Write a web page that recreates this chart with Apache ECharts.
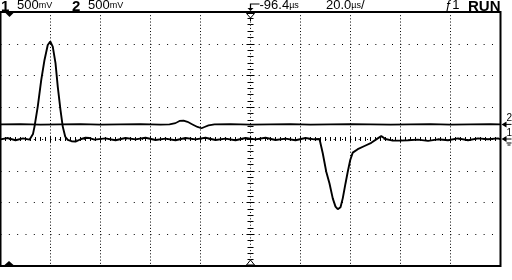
<!DOCTYPE html>
<html><head><meta charset="utf-8">
<script src="https://cdn.jsdelivr.net/npm/echarts@6/dist/echarts.min.js"></script>
<style>html,body{margin:0;padding:0;background:#fff}#c{width:512px;height:280px}</style>
</head><body><div id="c"></div>
<script>
// time in µs relative to screen centre (20 µs/div), amplitude in divisions (500 mV/div)
const ch1Time = [-100,-97,-94,-91,-88.4,-87.6,-87.0,-86.4,-85.1,-83.7,-82.4,-81.1,-80.1,-79.1,-78.0,-77.1,-76.0,-75.1,-74.1,-73.1,-71.6,-70.0,-67.7,-66.0,-64.4,-62.4,-58,-54,-50,-46,-42,-38,-34,-30,-26,-22,-18,-14,-10,-6,-2,2,6,10,14,18,22,25.5,27.6,28.9,30.3,31.6,32.9,34.0,34.9,36.0,36.9,38.0,38.9,39.9,40.9,42.9,45.6,48.3,50.9,52.3,54.0,56.9,59.6,63,67,71,75,79,83,87,91,95,99,100];
const ch1Div  = [-0.01,0.03,-0.04,0.02,-0.02,0.02,0.16,0.39,1.02,1.86,2.49,2.96,3.07,2.91,2.39,1.65,0.91,0.39,0.07,-0.03,-0.07,-0.08,0.0,0.04,0.03,-0.02,0.02,-0.04,0.03,-0.01,0.04,-0.03,0.01,-0.04,0.03,-0.01,0.04,-0.03,0.01,-0.04,0.03,-0.01,0.04,-0.03,0.01,-0.04,0.03,-0.01,0.0,-0.45,-1.03,-1.40,-1.87,-2.13,-2.21,-2.15,-1.87,-1.40,-1.03,-0.66,-0.43,-0.32,-0.22,-0.12,0.02,0.09,0.0,-0.05,-0.05,-0.04,-0.02,-0.06,-0.01,-0.04,0.02,-0.04,0.02,-0.01,0.02,-0.01];
const ch2Time = [-100,-92,-84,-76,-68,-60,-52,-44,-36,-32.4,-30,-28.4,-26.8,-25.2,-23.2,-21.2,-19.6,-18.4,-16.8,-14.4,-8,0,8,16,24,32,40,48,56,64,72,80,88,96,100];
const ch2Div  = [0.46,0.47,0.45,0.46,0.47,0.45,0.46,0.47,0.45,0.46,0.50,0.57,0.58,0.54,0.46,0.38,0.34,0.38,0.43,0.46,0.47,0.45,0.46,0.47,0.45,0.46,0.47,0.46,0.45,0.46,0.47,0.45,0.46,0.47,0.46];
const chOffsets = {ch1: 0.0, ch2: 0.46};
const triggerDelay = -96.4;
const headerLeft = [['1','500','mV'],['2','500','mV']];
const delayText = ['-96.4','µs'];
const timebaseText = ['20.0','µs','/'];
const trigText = 'ƒ1';
const runText = 'RUN';

const zip = (a, b) => a.map((t, i) => [t, b[i]]);
const chart = echarts.init(document.getElementById('c'), null, {renderer: 'canvas'});
const FONT = 'Liberation Sans';
const hidden = {axisLabel:{show:false}, axisLine:{show:false,onZero:false}, axisTick:{show:false}};
function tickAxis(base, inside, len, mlen, split, idx) {
  return Object.assign({}, base, {
    axisLabel:{show:false}, splitLine:{show:false},
    axisLine:{show:false, onZero:true, onZeroAxisIndex: idx},
    axisTick:{show:true, inside: inside, length: len, lineStyle:{color:'#000', width:1}},
    minorTick:{show:true, splitNumber: split, length: mlen, lineStyle:{color:'#000', width:1}}
  });
}
const xBase = {type:'value', min:-100, max:100, interval:20};
const yBase = {type:'value', min:-4, max:4, interval:1};
chart.setOption({
  animation:false,
  backgroundColor:'#fff',
  grid:{left:0.5, right:11.5, top:12, bottom:14, show:true, borderColor:'#000', borderWidth:2, backgroundColor:'#fff'},
  xAxis:[
    Object.assign({}, xBase, hidden, {splitLine:{show:true, lineStyle:{color:'#000', width:1, type:[1,2.175]}}}),
    tickAxis(xBase, false, 3, 2, 10, 0),
    tickAxis(xBase, true, 3, 2, 10, 0)
  ],
  yAxis:[
    Object.assign({}, yBase, hidden, {splitLine:{show:true, lineStyle:{color:'#000', width:1, type:[1,7.33]}}}),
    tickAxis(yBase, false, 4, 3, 5, 0),
    tickAxis(yBase, true, 4, 3, 5, 0)
  ],
  series:[
    {type:'line', name:'ch2', data: zip(ch2Time, ch2Div), showSymbol:false, symbol:'none', lineStyle:{color:'#000', width:1.7}, z:5},
    {type:'line', name:'ch1', data: zip(ch1Time, ch1Div), showSymbol:false, symbol:'none', lineStyle:{color:'#000', width:1.9}, z:6}
  ]
});

const cx = chart.convertToPixel({xAxisIndex:0}, 0);
const tx = chart.convertToPixel({xAxisIndex:0}, triggerDelay);
const yTop = chart.convertToPixel({yAxisIndex:0}, 4);
const yBot = chart.convertToPixel({yAxisIndex:0}, -4);
const xRight = chart.convertToPixel({xAxisIndex:0}, 100);
const y1 = chart.convertToPixel({yAxisIndex:0}, chOffsets.ch1);
const y2 = chart.convertToPixel({yAxisIndex:0}, chOffsets.ch2);

const rich = {
  n:{fontFamily:FONT, fontSize:13, fill:'#000'},
  b:{fontFamily:FONT, fontSize:15, fontWeight:'bold', fill:'#000'},
  u:{fontFamily:FONT, fontSize:9, fill:'#000'}
};
function txt(x, str) {
  return {type:'text', left:x, top:-1, style:{text:str, rich:rich, fill:'#000', fontFamily:FONT, fontSize:13}};
}
const g = [
  txt(1, '{b|' + headerLeft[0][0] + '}'),
  txt(17, '{n|' + headerLeft[0][1] + '}{u|' + headerLeft[0][2] + '}'),
  txt(72, '{b|' + headerLeft[1][0] + '}'),
  txt(88, '{n|' + headerLeft[1][1] + '}{u|' + headerLeft[1][2] + '}'),
  txt(cx + 9, '{n|' + delayText[0] + '}{u|' + delayText[1] + '}'),
  txt(326, '{n|' + timebaseText[0] + '}{u|' + timebaseText[1] + '}{n|' + timebaseText[2] + '}'),
  txt(445, '{n|' + trigText + '}'),
  txt(468, '{b|' + runText + '}'),
  // trigger reference arrow
  {type:'polyline', shape:{points:[[cx+9,4],[cx,4],[cx,9]]}, style:{stroke:'#000', lineWidth:1.2, fill:null}},
  {type:'polygon', shape:{points:[[cx-3,8],[cx+3,8],[cx,11]]}, style:{fill:'#000'}},
  // centre markers
  {type:'polygon', shape:{points:[[cx-4,yTop+1.5],[cx+4,yTop+1.5],[cx,yTop+6]]}, style:{fill:'#fff', stroke:'#000', lineWidth:1}, z:20},
  {type:'line', shape:{x1:cx, y1:yTop+6, x2:cx, y2:yTop+9}, style:{stroke:'#000', lineWidth:1}, z:20},
  {type:'polygon', shape:{points:[[cx-4,yBot-1],[cx+4,yBot-1],[cx,yBot-6]]}, style:{fill:'#fff', stroke:'#000', lineWidth:1}, z:20},
  // trigger position markers
  {type:'polygon', shape:{points:[[tx-4,yTop+1],[tx+4,yTop+1],[tx,yTop+5]]}, style:{fill:'#000'}, z:20},
  {type:'polygon', shape:{points:[[tx-5,yBot-1],[tx+4,yBot-1],[tx-0.5,yBot-5]]}, style:{fill:'#000'}, z:20},
  // channel markers on right
  {type:'polygon', shape:{points:[[xRight+1,y2],[xRight+6,y2-3],[xRight+6,y2+3]]}, style:{fill:'#000'}},
  {type:'line', shape:{x1:xRight+5, y1:y2, x2:xRight+11, y2:y2}, style:{stroke:'#000', lineWidth:1}},
  {type:'text', left:xRight+6, top:y2-11, style:{text:'2', fontFamily:FONT, fontSize:10, fill:'#000'}},
  {type:'polygon', shape:{points:[[xRight+1,y1],[xRight+6,y1-3],[xRight+6,y1+3]]}, style:{fill:'#000'}},
  {type:'line', shape:{x1:xRight+5, y1:y1, x2:xRight+11, y2:y1}, style:{stroke:'#000', lineWidth:1}},
  {type:'text', left:xRight+6, top:y1-11, style:{text:'1', fontFamily:FONT, fontSize:10, fill:'#000'}},
  {type:'line', shape:{x1:xRight+6, y1:y1+4, x2:xRight+11, y2:y1+4}, style:{stroke:'#000', lineWidth:1}},
  {type:'line', shape:{x1:xRight+7, y1:y1+6, x2:xRight+10, y2:y1+6}, style:{stroke:'#000', lineWidth:1}}
];
chart.setOption({graphic: g});
</script></body></html>
